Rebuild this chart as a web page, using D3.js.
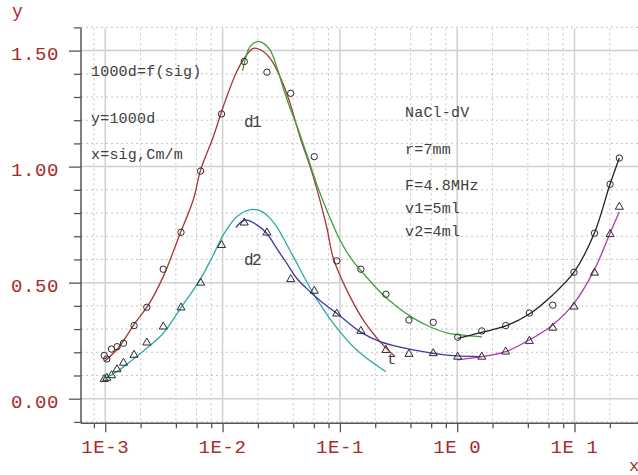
<!DOCTYPE html>
<html>
<head>
<meta charset="utf-8">
<script src="https://cdn.jsdelivr.net/npm/d3@7"></script>
<style>
  html, body { margin: 0; padding: 0; background: #fff; }
  svg { display: block; }
</style>
</head>
<body>
<svg id="chart" width="638" height="475"></svg>
<script>
// Conductivity sigma (Cm/m) of the measured points, shared by both series
const sig = [0.00098, 0.00103, 0.00113, 0.00126, 0.00143, 0.00176, 0.00226, 0.00312,
  0.00442, 0.0065, 0.0098, 0.0153, 0.0239, 0.0381, 0.0605, 0.094, 0.151, 0.247,
  0.388, 0.625, 1.01, 1.62, 2.59, 4.12, 6.52, 9.9, 14.8, 20.1, 24.1];
// y = 1000d, v1 = 5 ml (circles)
const d1 = [0.186, 0.171, 0.214, 0.224, 0.239, 0.315, 0.394, 0.558, 0.717, 0.981,
  1.227, 1.453, 1.407, 1.316, 1.043, 0.594, 0.558, 0.450, 0.339, 0.329, 0.265,
  0.292, 0.315, 0.369, 0.403, 0.545, 0.713, 0.924, 1.037];
// y = 1000d, v2 = 4 ml (triangles)
const d2 = [0.089, 0.094, 0.105, 0.131, 0.159, 0.193, 0.246, 0.315, 0.397, 0.504,
  0.666, 0.763, 0.720, 0.519, 0.469, 0.371, 0.296, 0.214, 0.197, 0.200, 0.185,
  0.185, 0.207, 0.253, 0.310, 0.401, 0.547, 0.713, 0.831];

// Fitted curves (sigma, 1000d)
const fitRedX = [0.000994, 0.00129, 0.00179, 0.00233, 0.00312, 0.00433, 0.00562, 0.0065,
  0.00834, 0.01014, 0.01319, 0.01604, 0.01827, 0.02223, 0.02705, 0.03518, 0.04567,
  0.05929, 0.0771, 0.0879, 0.1142, 0.1584, 0.2198, 0.2951];
const fitRedY = [0.1625, 0.2185, 0.326, 0.404, 0.526, 0.710, 0.856, 0.986,
  1.129, 1.259, 1.409, 1.481, 1.510, 1.496, 1.446, 1.316, 1.129,
  0.957, 0.741, 0.605, 0.469, 0.339, 0.246, 0.181];

const fitGreenX = [0.01483, 0.01552, 0.01713, 0.01977, 0.02224, 0.02535, 0.02891, 0.0329,
  0.03754, 0.04307, 0.05138, 0.06377, 0.08232, 0.1002, 0.1269, 0.1583, 0.2197, 0.3049,
  0.4225, 0.5858, 0.8138, 1.205, 1.618];
const fitGreenY = [1.4125, 1.459, 1.517, 1.539, 1.532, 1.503, 1.431, 1.339,
  1.253, 1.175, 1.063, 0.921, 0.779, 0.684, 0.598, 0.540, 0.461, 0.397,
  0.347, 0.310, 0.284, 0.272, 0.267];

const fitCyanX = [0.000994, 0.00125, 0.001625, 0.002255, 0.00312, 0.00442, 0.00641, 0.00833,
  0.01014, 0.01319, 0.01656, 0.02083, 0.02535, 0.02891, 0.04009, 0.0593, 0.0879,
  0.1391, 0.2473];
const fitCyanY = [0.088, 0.116, 0.159, 0.217, 0.282, 0.392, 0.512, 0.619,
  0.706, 0.784, 0.813, 0.810, 0.778, 0.741, 0.612, 0.454, 0.325,
  0.210, 0.116];

const fitBlueX = [0.01294, 0.01552, 0.01954, 0.02378, 0.02891, 0.03517, 0.04281, 0.05566,
  0.07219, 0.09397, 0.1483, 0.2197, 0.4225, 0.8138, 1.618];
const fitBlueY = [0.737, 0.770, 0.749, 0.713, 0.648, 0.584, 0.519, 0.461,
  0.411, 0.368, 0.289, 0.246, 0.210, 0.188, 0.181];

const fitBlackX = [1.01, 1.588, 2.592, 4.119, 6.516, 9.90, 14.75, 20.07, 24.1];
const fitBlackY = [0.260, 0.2845, 0.3134, 0.365, 0.447, 0.545, 0.713, 0.924, 1.0375];

const fitMagentaX = [1.01, 1.618, 2.592, 4.119, 6.516, 9.90, 14.75, 20.07, 24.1];
const fitMagentaY = [0.167, 0.181, 0.2026, 0.253, 0.318, 0.411, 0.555, 0.713, 0.806];

// Axis ticks
const xMajor = [1e-3, 1e-2, 1e-1, 1, 10];
const xMajorLabels = ["1E-3", "1E-2", "1E-1", "1E 0", "1E 1"];
const xMinor = [8e-4, 2e-3, 4e-3, 6e-3, 8e-3, 2e-2, 4e-2, 6e-2, 8e-2,
  0.2, 0.4, 0.6, 0.8, 2, 4, 6, 8, 20];
const yMajor = [0, 0.5, 1.0, 1.5];
const yMajorLabels = ["0.00", "0.50", "1.00", "1.50"];
const yMinor = [-0.1, 0.1, 0.2, 0.3, 0.4, 0.6, 0.7, 0.8, 0.9, 1.1, 1.2, 1.3, 1.4, 1.6];

// Annotation text
const notesLeft = ["1000d=f(sig)", "y=1000d", "x=sig,Cm/m"];
const notesRight = ["NaCl-dV", "r=7mm", "F=4.8MHz", "v1=5ml", "v2=4ml"];

const svg = d3.select("#chart");
const W = 638, H = 475;
const plotLeft = 81, plotBottom = 423.3, plotTop = 28.3, plotRight = 638;

const x = d3.scaleLog().domain([0.000621, 34.77]).range([plotLeft, plotRight]);
const y = d3.scaleLinear().domain([-0.106, 1.596]).range([plotBottom, plotTop]);

const labelColor = "#a82a2a";
const textColor = "#404040";
const mono = "'Liberation Mono', 'DejaVu Sans Mono', monospace";

svg.append("rect").attr("width", W).attr("height", H).attr("fill", "#fff");

// Grid
const grid = svg.append("g");
grid.append("g").selectAll("line").data(xMinor).join("line")
  .attr("x1", d => x(d)).attr("x2", d => x(d)).attr("y1", plotTop).attr("y2", plotBottom)
  .attr("stroke", "#c4c4c4").attr("stroke-width", 1).attr("stroke-dasharray", "2,3");
grid.append("g").selectAll("line").data(yMinor).join("line")
  .attr("x1", plotLeft).attr("x2", plotRight).attr("y1", d => y(d)).attr("y2", d => y(d))
  .attr("stroke", "#c4c4c4").attr("stroke-width", 1).attr("stroke-dasharray", "2,3");
grid.append("g").selectAll("line").data(xMajor).join("line")
  .attr("x1", d => x(d)).attr("x2", d => x(d)).attr("y1", plotTop).attr("y2", plotBottom)
  .attr("stroke", "#d0d0d0").attr("stroke-width", 1.5);
grid.append("g").selectAll("line").data(yMajor).join("line")
  .attr("x1", plotLeft).attr("x2", plotRight).attr("y1", d => y(d)).attr("y2", d => y(d))
  .attr("stroke", "#d0d0d0").attr("stroke-width", 1.5);

// Axes
const axisColor = "#555";
const yAxisMajor = d3.axisLeft(y).tickValues(yMajor).tickSize(12).tickFormat(() => "");
const yAxisMinor = d3.axisLeft(y).tickValues(yMinor).tickSize(7).tickFormat(() => "");
const xAxisMajor = d3.axisBottom(x).tickValues(xMajor).tickSize(9).tickFormat(() => "");
const xAxisMinor = d3.axisBottom(x).tickValues(xMinor).tickSize(5).tickFormat(() => "");

function styleAxis(g) {
  g.select(".domain").remove();
  g.selectAll(".tick line").attr("stroke", axisColor).attr("stroke-width", 1.3);
}
svg.append("g").attr("transform", `translate(${plotLeft},0)`).call(yAxisMajor).call(styleAxis);
svg.append("g").attr("transform", `translate(${plotLeft},0)`).call(yAxisMinor).call(styleAxis);
svg.append("g").attr("transform", `translate(0,${plotBottom})`).call(xAxisMajor).call(styleAxis);
svg.append("g").attr("transform", `translate(0,${plotBottom})`).call(xAxisMinor).call(styleAxis);

svg.append("line").attr("x1", plotLeft).attr("x2", plotLeft).attr("y1", plotTop).attr("y2", plotBottom)
  .attr("stroke", axisColor).attr("stroke-width", 1.5);
svg.append("line").attr("x1", plotLeft).attr("x2", plotRight).attr("y1", plotBottom).attr("y2", plotBottom)
  .attr("stroke", axisColor).attr("stroke-width", 1.5);

// Tick labels
svg.append("g").selectAll("text").data(yMajor).join("text")
  .attr("x", 59).attr("y", d => y(d) + 9)
  .attr("text-anchor", "end")
  .attr("font-family", mono).attr("font-size", 19).attr("letter-spacing", 0.6)
  .attr("fill", labelColor)
  .text((d, i) => yMajorLabels[i]);
svg.append("g").selectAll("text").data(xMajor).join("text")
  .attr("x", d => x(d)).attr("y", 453)
  .attr("text-anchor", "middle")
  .attr("font-family", mono).attr("font-size", 19).attr("letter-spacing", 0.6)
  .attr("fill", labelColor)
  .text((d, i) => xMajorLabels[i]);

// Axis names
svg.append("text").attr("x", 12).attr("y", 17).attr("font-family", mono)
  .attr("font-size", 18).attr("fill", labelColor).text("y");
svg.append("text").attr("x", 629).attr("y", 471).attr("font-family", mono)
  .attr("font-size", 17).attr("fill", labelColor).text("x");

// Fitted curves
const line = d3.line().x(d => x(d[0])).y(d => y(d[1])).curve(d3.curveCatmullRom.alpha(0.5));
const fits = [
  [fitRedX, fitRedY, "#a83434"],
  [fitGreenX, fitGreenY, "#3fa03f"],
  [fitCyanX, fitCyanY, "#2fa8a8"],
  [fitBlueX, fitBlueY, "#3a3aa2"],
  [fitBlackX, fitBlackY, "#222"],
  [fitMagentaX, fitMagentaY, "#b03cb0"]
];
fits.forEach(([xs, ys, c]) => {
  svg.append("path")
    .datum(xs.map((v, i) => [v, ys[i]]))
    .attr("d", line)
    .attr("fill", "none").attr("stroke", c).attr("stroke-width", 1.3);
});

// Measured points
const mk = "#2a2a2a";
svg.append("g").selectAll("circle").data(sig.map((v, i) => [v, d1[i]])).join("circle")
  .attr("cx", d => x(d[0])).attr("cy", d => y(d[1])).attr("r", 3.2)
  .attr("fill", "none").attr("stroke", mk).attr("stroke-width", 1);
svg.append("g").selectAll("path").data(sig.map((v, i) => [v, d2[i]])).join("path")
  .attr("transform", d => `translate(${x(d[0])},${y(d[1])})`)
  .attr("d", "M0,-3.6L4,3.4L-4,3.4Z")
  .attr("fill", "none").attr("stroke", mk).attr("stroke-width", 1);

// Annotations
const note = (t, px, py, fs) => svg.append("text").attr("x", px).attr("y", py)
  .attr("font-family", mono).attr("font-size", fs || 15).attr("letter-spacing", 0.2)
  .attr("fill", textColor).text(t);
const leftBase = [75.5, 123, 159];
notesLeft.forEach((t, i) => note(t, 91, leftBase[i]));
const rightBase = [117.3, 154, 190, 212.7, 235.7];
notesRight.forEach((t, i) => note(t, 405, rightBase[i]));
note("d1", 244, 126.5, 16).attr("letter-spacing", -1.5);
note("d2", 244, 265, 16).attr("letter-spacing", -1.5);
note("t", 387, 364, 15);
</script>
</body>
</html>
